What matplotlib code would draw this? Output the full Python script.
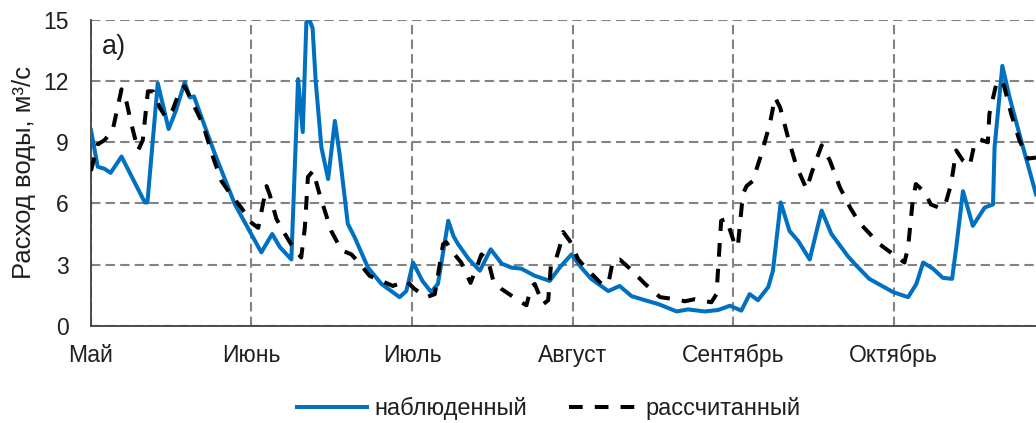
import matplotlib
matplotlib.use("Agg")
import matplotlib.pyplot as plt

plt.rcParams["font.family"] = ["Liberation Sans", "DejaVu Sans"]

# observed discharge, m3/s (day counted from 1 May)
obs_day = [0, 1.3, 2.6, 3.8, 5.9, 10.4, 10.9, 12.9, 15.0, 16.4, 18.1, 19.1, 19.9,
           21.6, 23.9, 27.8, 32.9, 35.0, 36.5, 38.7, 40.0, 40.9, 41.6, 42.2, 42.8,
           43.4, 44.5, 45.8, 47.1, 48.0, 49.6, 50.9, 53.5, 56.1, 59.6, 60.9, 62.2,
           64.0, 65.7, 67.0, 69.0, 70.0, 70.9, 73.0, 75.1, 77.2, 79.3, 81.2, 83.1,
           85.7, 88.6, 90.5, 92.8, 94.7, 96.6, 99.9, 102.1, 104.4, 107.0, 109.7,
           113.1, 115.3, 118.5, 121.1, 123.4, 125.6, 127.2, 128.8, 130.8, 131.7,
           133.2, 134.9, 136.6, 138.8, 141.1, 143.0, 146.2, 147.8, 150.3, 154.9,
           157.8, 159.4, 160.7, 162.6, 164.5, 166.3, 167.1, 168.4, 170.3, 172.6,
           174.2, 174.5, 176.0, 177.4, 179.3, 182.5]
obs_flow = [9.6, 7.8, 7.7, 7.5, 8.3, 6.05, 6.05, 11.9, 9.65, 10.55, 11.95, 11.2, 11.25,
            10.05, 8.45, 5.95, 3.6, 4.5, 3.85, 3.25, 12.1, 9.5, 14.9, 15.0, 14.6,
            12.0, 8.75, 7.2, 10.05, 8.45, 5.0, 4.35, 2.85, 2.05, 1.4, 1.7, 3.1,
            2.2, 1.65, 2.05, 5.15, 4.4, 4.0, 3.25, 2.7, 3.75, 3.05, 2.85, 2.8,
            2.45, 2.2, 2.85, 3.5, 2.85, 2.3, 1.7, 1.95, 1.45, 1.25, 1.05,
            0.7, 0.8, 0.7, 0.77, 0.98, 0.74, 1.55, 1.25, 1.9, 2.7,
            6.05, 4.65, 4.15, 3.25, 5.65, 4.5, 3.4, 2.95, 2.3, 1.65,
            1.4, 2.05, 3.1, 2.8, 2.35, 2.3, 3.85, 6.6, 4.9, 5.8,
            5.95, 8.75, 12.75, 11.2, 9.4, 6.45]

# calculated discharge, m3/s
calc_day = [0, 1.3, 2.6, 4.2, 5.9, 6.8, 7.8, 9.1, 10.0, 11.0, 12.0, 13.3, 14.5,
            15.8, 17.1, 18.1, 19.7, 21.6, 23.6, 25.2, 27.1, 29.0, 31.0, 32.3, 33.9,
            34.5, 35.8, 37.1, 39.0, 40.6, 41.3, 41.9, 42.9, 44.2, 46.4, 48.4, 50.3,
            51.9, 53.8, 56.1, 58.3, 60.9, 62.5, 64.8, 66.4, 68.0, 68.6, 70.2, 71.5,
            73.3, 74.4, 75.4, 76.7, 77.7, 79.3, 82.5, 84.1, 85.0, 85.7, 87.3, 88.3,
            88.9, 89.9, 90.5, 91.2, 92.5, 94.1, 95.7, 98.6, 99.9, 100.8, 102.1,
            104.1, 107.0, 109.9, 112.8, 114.7, 116.6, 119.8, 120.8, 121.7, 122.7,
            124.3, 124.9, 125.9, 126.6, 127.8, 129.5, 131.1, 132.1, 133.1, 134.6,
            136.2, 138.2, 139.1, 141.1, 142.7, 144.6, 146.6, 148.4, 152.3, 155.2,
            157.1, 157.8, 158.7, 159.3, 161.0, 162.2, 164.2, 165.1, 166.1, 167.1,
            168.4, 169.7, 170.6, 171.6, 173.2, 173.5, 175.0, 176.3, 177.7, 179.3,
            180.9, 182.5]
calc_flow = [7.6, 8.9, 9.1, 9.6, 11.6, 11.05, 9.9, 8.6, 9.1, 11.5, 11.5, 10.7, 10.2,
             10.6, 11.5, 11.75, 10.9, 9.9, 8.25, 7.1, 6.4, 5.8, 5.05, 4.8, 6.85,
             6.45, 5.25, 4.65, 3.85, 3.35, 4.8, 7.3, 7.6, 6.4, 4.65, 3.7, 3.5,
             3.05, 2.45, 2.2, 1.95, 2.2, 1.8, 1.4, 1.55, 4.0, 4.1, 3.5, 3.1,
             2.1, 2.8, 3.5, 3.2, 2.2, 1.8, 1.25, 1.0, 1.9, 2.05, 1.05, 1.25,
             3.2, 3.35, 3.85, 4.6, 4.15, 3.25, 2.8, 2.05, 2.05, 3.2, 3.25,
             2.8, 2.05, 1.4, 1.3, 1.2, 1.3, 1.15, 1.55, 5.15, 5.25,
             4.0, 3.85, 6.45, 6.85, 7.1, 8.45, 9.9, 11.2, 10.7, 9.25,
             7.85, 6.7, 7.45, 8.85, 8.1, 6.8, 5.8, 5.05, 4.0, 3.45,
             3.1, 3.85, 6.15, 6.95, 6.55, 5.95, 5.75, 6.05, 6.95, 8.6,
             8.1, 7.85, 8.9, 9.15, 9.0, 10.4, 12.05, 11.8, 10.4, 9.1,
             8.2, 8.25]

month_ticks = [0, 31, 62, 93, 124, 155]
month_labels = ["Май", "Июнь", "Июль", "Август", "Сентябрь", "Октябрь"]
flow_ticks = [0, 3, 6, 9, 12, 15]

text_color = "#1f1f1f"
fs = 16.5

fig = plt.figure(figsize=(10.36, 4.23), dpi=100)
ax = fig.add_axes([0.0878, 0.230, 0.9122, 0.7227])

ax.plot(obs_day, obs_flow, color="#0070C0", lw=2.9, solid_joinstyle="round",
        label="наблюденный", zorder=3)
ax.plot(calc_day, calc_flow, color="black", lw=2.9, dashes=(3.4, 3.0),
        label="рассчитанный", zorder=4)

ax.set_xlim(0, 182.5)
ax.set_ylim(0, 15)
ax.set_xticks(month_ticks)
ax.set_xticklabels(month_labels)
ax.set_yticks(flow_ticks)
ax.tick_params(axis="both", length=0, labelsize=fs, labelcolor=text_color)
ax.tick_params(axis="x", pad=13)
ax.tick_params(axis="y", pad=16)

ax.set_axisbelow(True)
ax.grid(True, color="#838383", lw=1.5, linestyle=(0, (4.5, 2.5)))

for side in ("top", "right"):
    ax.spines[side].set_visible(False)
for side in ("left", "bottom"):
    ax.spines[side].set_color("#404040")
    ax.spines[side].set_linewidth(1.3)

ax.set_ylabel("Расход воды, м³/с", fontsize=18.5, color=text_color, labelpad=5)
ax.text(0.012, 0.953, "a)", transform=ax.transAxes, fontsize=19.5,
        ha="left", va="top", color=text_color)

fig.legend(loc="center", bbox_to_anchor=(0.530, 0.035), ncol=2, frameon=False,
           fontsize=17, handlelength=2.95, handletextpad=0.3, columnspacing=1.8,
           labelcolor=text_color)

fig.savefig("out.png", dpi=100)
